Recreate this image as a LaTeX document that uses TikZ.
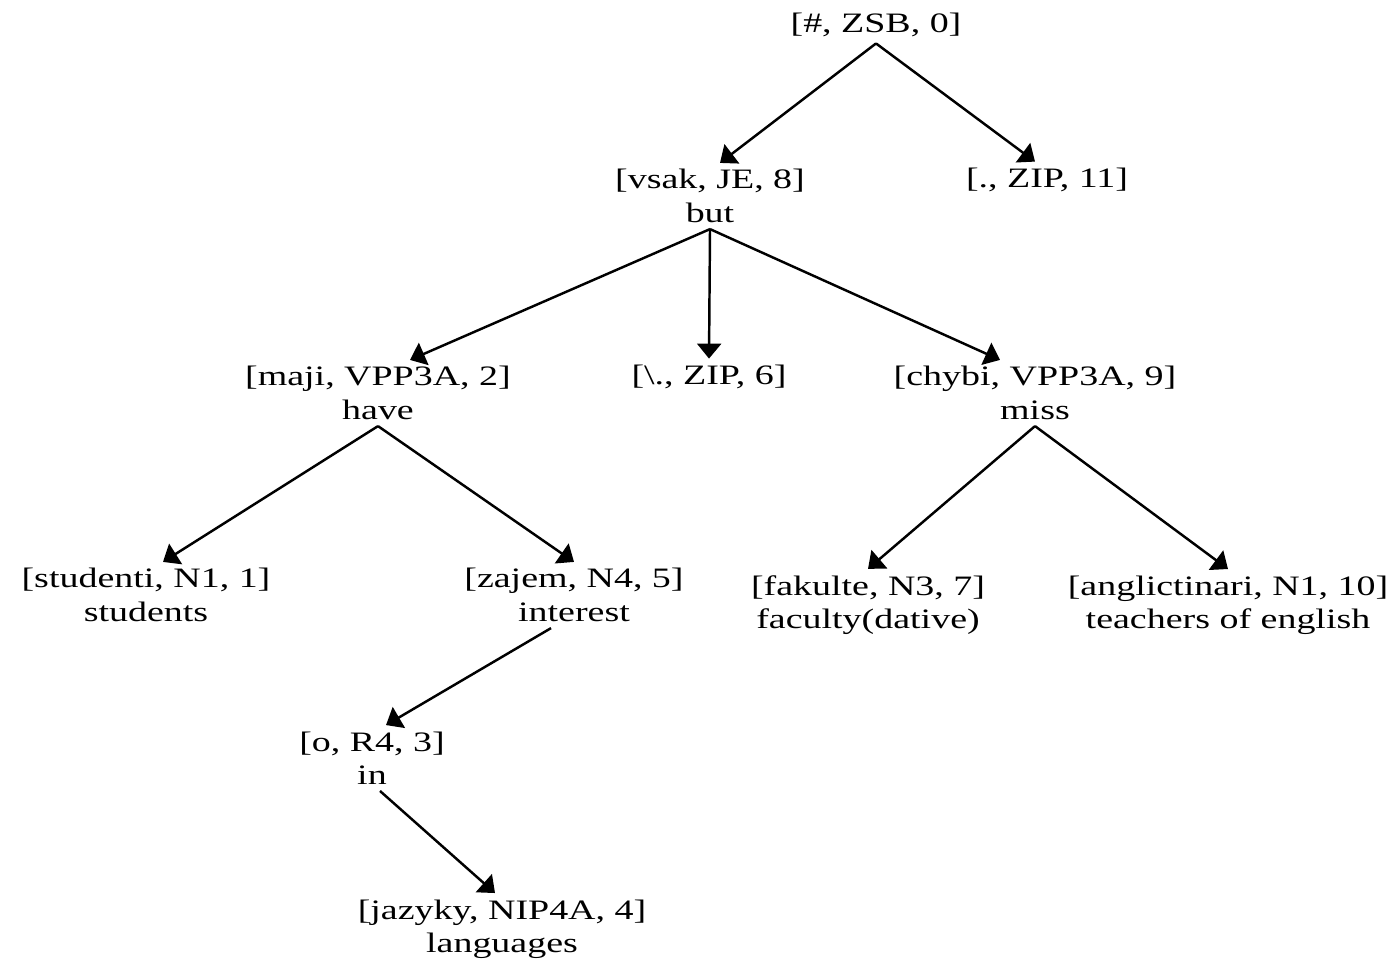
\documentclass[tikz,border=0pt]{standalone}
\usepackage{fontspec}
\setmainfont{Liberation Serif}[FakeStretch=1.35]
\usetikzlibrary{arrows.meta}

\begin{document}
\begin{tikzpicture}[>={Triangle[length=1.5mm, width=2.4mm]}, line width=0.7pt, every node/.style={font=\fontsize{8}{9.5}\selectfont}]
  \tikzset{word/.style={align=center, inner sep=1.5pt}}
  \useasboundingbox (0,0) rectangle (13.98,-9.6);

  \node[word] (root) at (8.76,-0.25) {[\#, ZSB, 0]};
  \node[word] (vsak) at (7.10,-1.96) {[vsak, JE, 8]\\but};
  \node[word] (zip11) at (10.47,-1.80) {[., ZIP, 11]};
  \node[word] (maji) at (3.78,-3.93) {[maji, VPP3A, 2]\\have};
  \node[word] (zip6) at (7.09,-3.77) {[\textbackslash., ZIP, 6]};
  \node[word] (chybi) at (10.35,-3.93) {[chybi, VPP3A, 9]\\miss};
  \node[word] (studenti) at (1.46,-5.95) {[studenti, N1, 1]\\students};
  \node[word] (zajem) at (5.74,-5.95) {[zajem, N4, 5]\\interest};
  \node[word] (fakulte) at (8.68,-6.05) {[fakulte, N3, 7]\\faculty(dative)};
  \node[word] (angl) at (12.28,-6.05) {[anglictinari, N1, 10]\\teachers of english};
  \node[word] (o) at (3.72,-7.58) {[o, R4, 3]\\in};
  \node[word] (jazyky) at (5.02,-9.29) {[jazyky, NIP4A, 4]\\languages};

  \draw[->] (root.south) -- ([xshift=1mm]vsak.north);
  \draw[->] (root.south) -- ([xshift=-1.2mm]zip11.north);
  \draw[->] (vsak.south) -- ([xshift=3.2mm]maji.north);
  \draw[->] (vsak.south) -- (zip6.north);
  \draw[->] (vsak.south) -- ([xshift=-3.5mm]chybi.north);
  \draw[->] (maji.south) -- ([xshift=1.7mm]studenti.north);
  \draw[->] (maji.south) -- (zajem.north);
  \draw[->] (chybi.south) -- (fakulte.north);
  \draw[->] (chybi.south) -- (angl.north);
  \draw[->] ([xshift=-2.3mm]zajem.south) -- ([xshift=1.4mm]o.north);
  \draw[->] ([xshift=0.8mm]o.south) -- ([xshift=-0.7mm]jazyky.north);
\end{tikzpicture}
\end{document}
